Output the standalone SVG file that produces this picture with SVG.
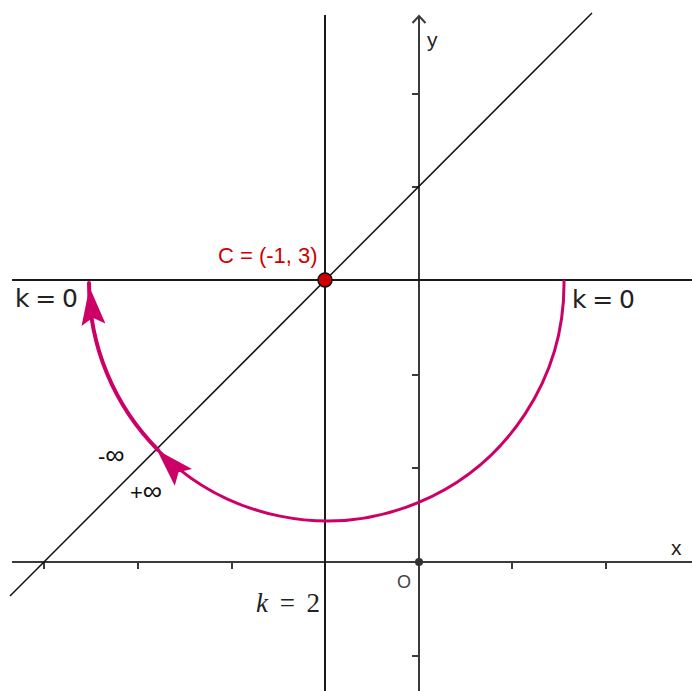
<svg xmlns="http://www.w3.org/2000/svg" width="692" height="691" viewBox="0 0 692 691">
<style>
.axis{stroke:#3a3a3a;stroke-width:2;fill:none}
.tick{stroke:#3a3a3a;stroke-width:2}
.line{stroke:#1a1a1a;stroke-width:2;fill:none}
.diag{stroke:#111;stroke-width:1.5;fill:none}
.arc{stroke:#cc0066;fill:none;stroke-linecap:round}
.arrow{fill:#cc0066}
.sans{font-family:"Liberation Sans",Arial,sans-serif}
.inf{font-family:"Liberation Sans",Arial,sans-serif;font-size:22px;fill:#111}
.big{font-size:27px}
.lbl{font-family:"DejaVu Sans","Liberation Sans",sans-serif;font-size:25px;fill:#222}
</style>
<defs>
<path id="ah" d="M0,0 L-38,-12 L-31,0 L-38,12 Z"/>
</defs>
<rect width="692" height="691" fill="#fff"/>
<g id="axes">
<line class="axis" x1="12" y1="562" x2="692" y2="562"/>
<line class="axis" x1="419" y1="16" x2="419" y2="691"/>
<polyline class="axis" points="412.5,23 419,16 425.5,23"/>
<g class="tick">
<line x1="44" y1="562" x2="44" y2="569"/>
<line x1="138" y1="562" x2="138" y2="569"/>
<line x1="232" y1="562" x2="232" y2="569"/>
<line x1="512" y1="562" x2="512" y2="569"/>
<line x1="606" y1="562" x2="606" y2="569"/>
<line x1="412" y1="94" x2="419" y2="94"/>
<line x1="412" y1="187" x2="419" y2="187"/>
<line x1="412" y1="375" x2="419" y2="375"/>
<line x1="412" y1="468" x2="419" y2="468"/>
<line x1="412" y1="656" x2="419" y2="656"/>
</g>
<text class="sans" x="427" y="47" font-size="21" fill="#222">y</text>
<text class="sans" x="671" y="555" font-size="21" fill="#222">x</text>
<text class="sans" x="397" y="588" font-size="18" fill="#444">O</text>
<circle cx="419" cy="562" r="4" fill="#333"/>
</g>
<g id="connectors">
<line class="line" x1="12" y1="280" x2="692" y2="280"/>
<line class="line" x1="325" y1="15" x2="325" y2="691"/>
<line class="diag" x1="10" y1="596" x2="592" y2="13"/>
<path class="arc" stroke-width="4" d="M89,283 A237,237 0 0 0 158,450"/>
<path class="arc" stroke-width="3" d="M158,450 A237,237 0 0 0 564,281"/>
<use href="#ah" class="arrow" transform="translate(89.5,287) rotate(264)"/>
<use href="#ah" class="arrow" transform="translate(157,450) rotate(226)"/>
</g>
<g id="C">
<circle cx="325" cy="280" r="7" fill="#cc0000" stroke="#111" stroke-width="1.5"/>
<text class="sans" x="218" y="263" font-size="22" fill="#cc0000">C = (-1, 3)</text>
</g>
<g id="labels">
<text class="lbl" x="15" y="307" textLength="63" lengthAdjust="spacing">k = 0</text>
<text class="lbl" x="572" y="308" textLength="63" lengthAdjust="spacing">k = 0</text>
<text x="256" y="612" font-family="'Liberation Serif','Times New Roman',serif" font-size="27" fill="#222" textLength="64" lengthAdjust="spacing"><tspan font-style="italic">k</tspan> = 2</text>
<text class="inf" x="98" y="464">-<tspan class="big">∞</tspan></text>
<text class="inf" x="130" y="500">+<tspan class="big">∞</tspan></text>
</g>
</svg>
